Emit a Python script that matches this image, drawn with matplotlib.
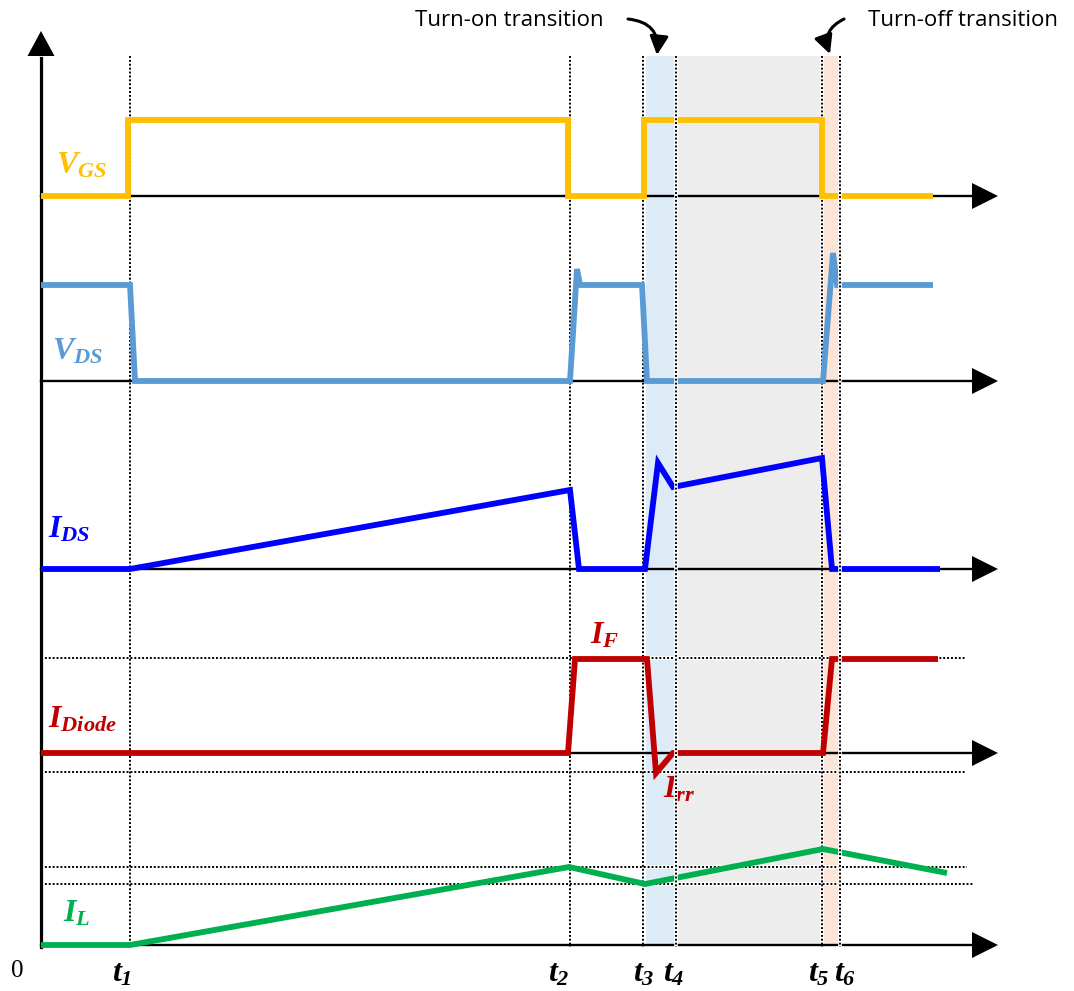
import matplotlib.pyplot as plt

plt.rcParams['mathtext.fontset'] = 'custom'
plt.rcParams['mathtext.rm'] = 'Liberation Serif:italic:bold'
plt.rcParams['mathtext.it'] = 'Liberation Serif:italic:bold'
plt.rcParams['mathtext.bf'] = 'Liberation Serif:italic:bold'

# switching instants t1..t6 (canvas x units)
t_marks = [130, 570, 643, 676, 822, 840]
t_names = ['$t_1$', '$t_2$', '$t_3$', '$t_4$', '$t_5$', '$t_6$']
t_label_x = [122, 559, 644, 674, 819, 845]

# baseline of each trace (canvas y, grows downward)
base_vgs = 196
base_vds = 381
base_ids = 569
base_diode = 753
base_il = 945

# waveforms: time points and height above own baseline
vgs_t = [41, 128, 128, 568, 568, 644, 644, 822, 822, 933]
vgs_h = [0, 0, 76, 76, 0, 0, 76, 76, 0, 0]

vds_t = [41, 130, 135, 570, 577, 580, 642, 647, 823, 833, 837, 933]
vds_h = [96, 96, 0, 0, 112, 96, 96, 0, 0, 128, 96, 96]

ids_t = [41, 130, 570, 579, 645, 658, 673, 822, 832, 940]
ids_h = [0, 0, 79, 0, 0, 106, 82, 111, 0, 0]

diode_t = [41, 568, 575, 647, 656, 673, 823, 832, 938]
diode_h = [0, 0, 94, 94, -20, 0, 0, 94, 94]

il_t = [41, 130, 569, 645, 823, 947]
il_h = [0, 0, 78, 61, 96, 72]

# reference levels (dotted guides)
diode_levels = [95, -19]
il_levels = [78, 61]

# shaded intervals: turn-on, on-state, turn-off
spans = [(646, 675, '#DDEBF7'), (677, 821, '#EDEDED'), (823, 840, '#FBE5D6')]

c_vgs = '#FFC000'
c_vds = '#5B9BD5'
c_ids = '#0000FF'
c_diode = '#C00000'
c_il = '#00B050'

x_axis = 41
x_end = 998
top = 56
fig = plt.figure(figsize=(10.74, 9.91), dpi=100)
ax = fig.add_axes([0, 0, 1, 1])
ax.set_xlim(0, 1074)
ax.set_ylim(991, 0)
ax.axis('off')

for x0, x1, col in spans:
    ax.fill_between([x0, x1], top, base_il, color=col, lw=0, zorder=0)


def dotted_v(x, z):
    ax.plot([x, x], [top, base_il + 2], color='white', lw=2.6, zorder=z,
            solid_capstyle='butt')
    ax.plot([x, x], [top, base_il + 2], color='black', lw=1.4, zorder=z + 0.1,
            linestyle=(0, (1.0, 1.0)))


def dotted_h(y, x1):
    ax.plot([x_axis, x1], [y, y], color='white', lw=2.6, zorder=1,
            solid_capstyle='butt')
    ax.plot([x_axis, x1], [y, y], color='black', lw=1.4, zorder=1.1,
            linestyle=(0, (1.0, 1.0)))


for i, x in enumerate(t_marks):
    # t4 and t6 guides sit over the traces
    dotted_v(x, 4 if i in (3, 5) else 1)

for h in diode_levels:
    dotted_h(base_diode - h, 965)
dotted_h(base_il - il_levels[0], 967)
dotted_h(base_il - il_levels[1], 973)

# time axes with arrow heads
for b in [base_vgs, base_vds, base_ids, base_diode, base_il]:
    ax.plot([x_axis, x_end - 20], [b, b], color='black', lw=1.7, zorder=2)
    ax.fill([x_end - 26, x_end, x_end - 26], [b - 13, b, b + 13],
            color='black', lw=0, zorder=2)

ax.plot([x_axis, x_axis], [base_il + 2, top + 2], color='black', lw=2.3,
        zorder=2)
ax.fill([x_axis - 13.5, x_axis, x_axis + 13.5], [top, 31, top],
        color='black', lw=0, zorder=2)

traces = [
    (vgs_t, vgs_h, base_vgs, c_vgs),
    (vds_t, vds_h, base_vds, c_vds),
    (ids_t, ids_h, base_ids, c_ids),
    (diode_t, diode_h, base_diode, c_diode),
    (il_t, il_h, base_il, c_il),
]
for t, h, b, col in traces:
    ax.plot(t, [b - v for v in h], color=col, lw=4.2, zorder=3,
            solid_joinstyle='miter', solid_capstyle='butt')

fs = 23
ax.text(56, 174, '$V_{GS}$', color=c_vgs, fontsize=fs)
ax.text(52, 360, '$V_{DS}$', color=c_vds, fontsize=fs)
ax.text(48, 538, '$I_{DS}$', color=c_ids, fontsize=fs)
ax.text(48, 728, '$I_{Diode}$', color=c_diode, fontsize=fs)
ax.text(63, 922, '$I_L$', color=c_il, fontsize=fs)
ax.text(590, 643, '$I_F$', color=c_diode, fontsize=fs)
ax.text(663, 798, '$I_{rr}$', color=c_diode, fontsize=fs)

for x, s in zip(t_label_x, t_names):
    ax.text(x, 982, s, color='black', fontsize=fs, ha='center')
ax.text(17, 977, '0', family='Liberation Serif', fontsize=18, ha='center')

ax.text(509, 20, 'Turn-on transition', family='Open Sans', fontsize=16,
        ha='center', va='center')
ax.text(963, 20, 'Turn-off transition', family='Open Sans', fontsize=16,
        ha='center', va='center')

arrow = dict(arrowstyle='-|>', color='black', lw=2.2, mutation_scale=28,
             shrinkA=0, shrinkB=0)
ax.annotate('', xy=(657, 55), xytext=(628, 19),
            arrowprops=dict(arrow, connectionstyle='arc3,rad=-0.5'))
ax.annotate('', xy=(830, 54), xytext=(844, 19),
            arrowprops=dict(arrow, connectionstyle='arc3,rad=0.45'))

fig.savefig('out.png', dpi=100)
